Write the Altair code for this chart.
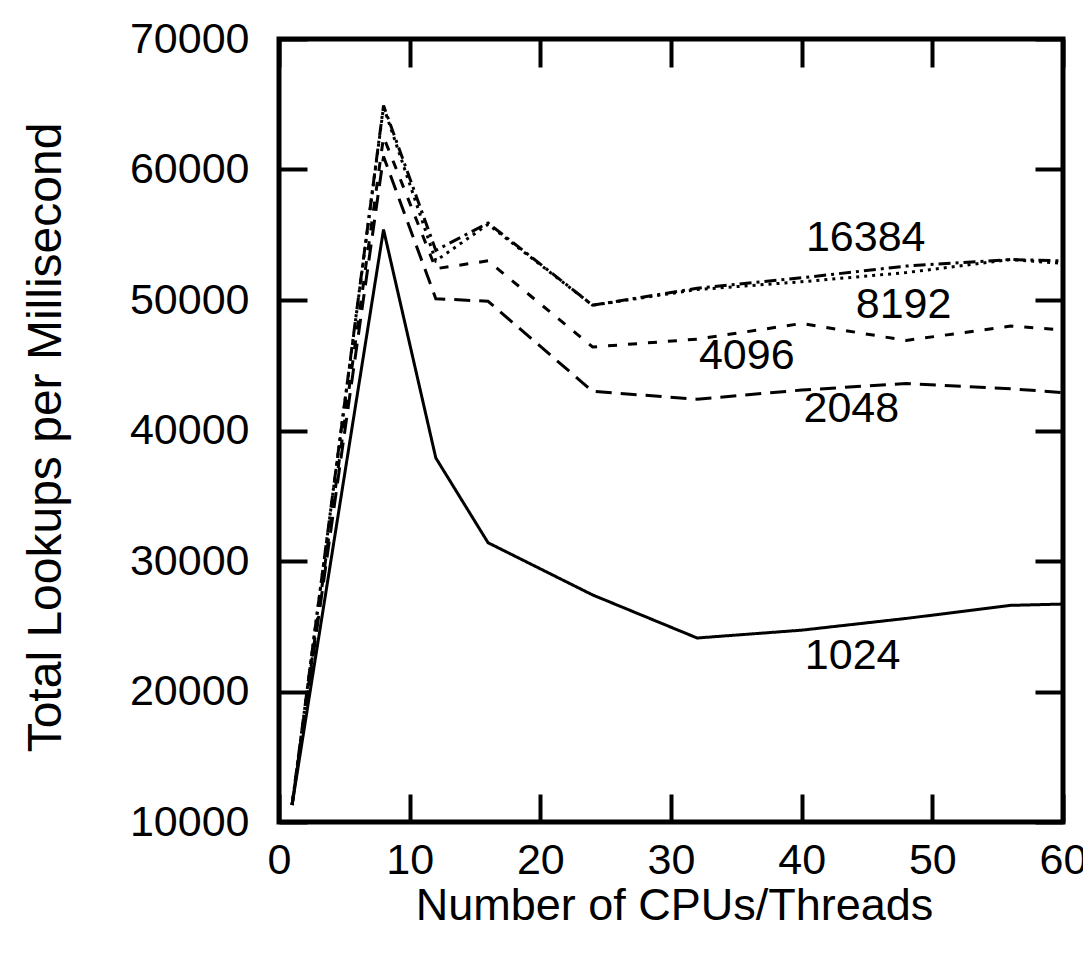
import altair as alt
import pandas as pd

cpus = [1, 8, 12, 16, 24, 32, 40, 48, 56, 60]
s1024 = [11300, 55400, 37900, 31400, 27400, 24100, 24700, 25600, 26600, 26700]
s2048 = [11300, 61000, 50100, 49900, 43000, 42400, 43100, 43600, 43200, 42900]
s4096 = [11300, 62500, 52400, 53000, 46400, 47000, 48200, 46900, 48000, 47700]
s8192 = [11300, 64800, 53000, 55800, 49600, 50800, 51400, 52100, 53100, 52800]
s16384 = [11300, 64900, 53800, 55900, 49600, 50900, 51700, 52600, 53100, 53000]

series_names = ["1024", "2048", "4096", "8192", "16384"]
series_vals = [s1024, s2048, s4096, s8192, s16384]
dashes = [[1, 0], [16, 9], [9, 11], [3, 5], [12, 5, 3, 5]]

label_x = [43.9, 43.8, 35.8, 47.8, 44.9]
label_y = [21760, 40635, 44720, 48650, 53775]

x_ticks = [0, 10, 20, 30, 40, 50, 60]
y_ticks = [10000, 20000, 30000, 40000, 50000, 60000, 70000]

rows = []
for name, vals in zip(series_names, series_vals):
    for c, v in zip(cpus, vals):
        rows.append({"cpus": c, "val": v, "series": name})
df = pd.DataFrame(rows)

lab_df = pd.DataFrame({"x": label_x, "y": label_y, "text": series_names})

FONT = "Liberation Sans"
TS = 28

xscale = alt.Scale(domain=[0, 60], nice=False)
yscale = alt.Scale(domain=[10000, 70000], nice=False)

common = dict(domain=False, grid=False, tickSize=TS, offset=-TS, tickWidth=4,
              tickColor="black", labelFont=FONT, labelFontSize=43, labelColor="black",
              titleFont=FONT, titleFontWeight="normal", titleColor="black",
              labelOverlap=False, labelBound=False, labelFlush=False)

x_bottom = alt.Axis(orient="bottom", values=x_ticks, labelPadding=17,
                    title="Number of CPUs/Threads", titleBaseline="alphabetic",
                    titleFontSize=45, titleX=395, titleY=125, **common)
y_left = alt.Axis(orient="left", values=y_ticks, labelPadding=30, format="d",
                  title="Total Lookups per Millisecond", titleBaseline="alphabetic",
                  titleFontSize=48, titleAngle=270, titleX=-247, titleY=398, **common)
x_top = alt.Axis(orient="top", values=x_ticks, labels=False, title=None, **common)
y_right = alt.Axis(orient="right", values=y_ticks, labels=False, title=None, **common)

lines = alt.Chart(df).mark_line(color="black", strokeWidth=3, clip=True).encode(
    x=alt.X("cpus:Q", scale=xscale, axis=x_bottom),
    y=alt.Y("val:Q", scale=yscale, axis=y_left),
    strokeDash=alt.StrokeDash("series:N", scale=alt.Scale(domain=series_names, range=dashes), legend=None),
    detail="series:N",
)

mirror = alt.Chart(df).mark_line(opacity=0).encode(
    x=alt.X("cpus:Q", scale=xscale, axis=x_top),
    y=alt.Y("val:Q", scale=yscale, axis=y_right),
    detail="series:N",
)

labels = alt.Chart(lab_df).mark_text(font=FONT, fontSize=43, color="black",
                                     align="center", baseline="alphabetic").encode(
    x=alt.X("x:Q", scale=xscale, axis=None),
    y=alt.Y("y:Q", scale=yscale, axis=None),
    text="text:N",
)

chart = alt.layer(lines, mirror, labels).resolve_axis(
    x="independent", y="independent"
).properties(
    width=784, height=783,
    autosize=alt.AutoSizeParams(type="none"),
    padding={"left": 271, "top": 31, "right": 20, "bottom": 130},
).configure_view(stroke="black", strokeWidth=5, fill="white")

chart.save("out.html", embed_options={"renderer": "svg", "actions": False})
